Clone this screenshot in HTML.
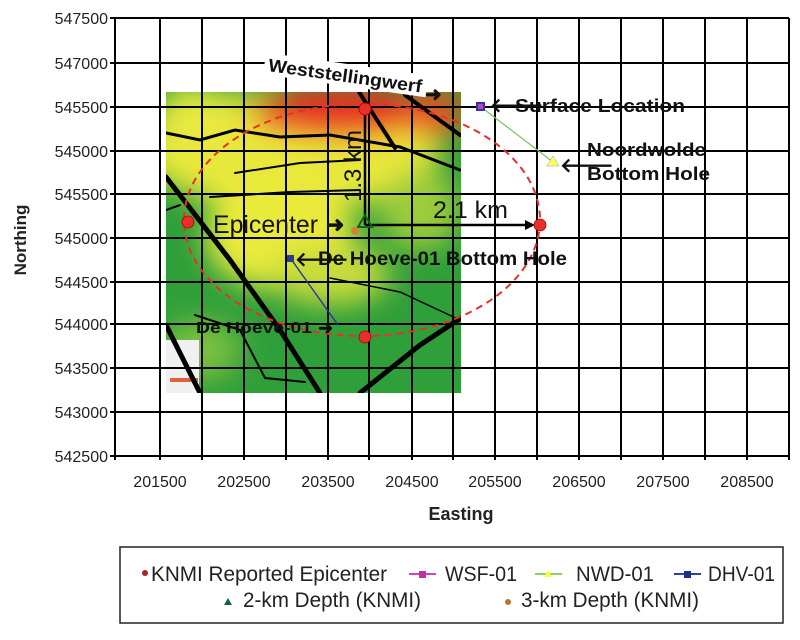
<!DOCTYPE html>
<html><head><meta charset="utf-8"><style>
body{margin:0;background:#fff;}
svg{display:block;font-family:"Liberation Sans",sans-serif;}
</style></head><body>
<svg width="800" height="640" viewBox="0 0 800 640" xmlns="http://www.w3.org/2000/svg">
<defs>
<filter id="b" x="-50%" y="-50%" width="200%" height="200%"><feGaussianBlur stdDeviation="14"/></filter>
<clipPath id="mc"><rect x="166" y="92" width="295" height="301"/></clipPath>
</defs>
<rect width="800" height="640" fill="#fff"/>
<!-- map -->
<g clip-path="url(#mc)">
<rect x="166" y="92" width="295" height="301" fill="#2f9f3a"/>
<g filter="url(#b)">
<ellipse cx="290" cy="150" rx="150" ry="60" fill="#e8e83a"/>
<ellipse cx="280" cy="235" rx="75" ry="55" fill="#eaea3a"/>
<ellipse cx="330" cy="275" rx="60" ry="30" fill="#c8dc3a"/>
<ellipse cx="195" cy="115" rx="40" ry="30" fill="#e8e840"/>
<ellipse cx="420" cy="210" rx="40" ry="40" fill="#9ccc3a"/>
<ellipse cx="340" cy="112" rx="90" ry="26" fill="#e83020"/>
<ellipse cx="435" cy="112" rx="30" ry="25" fill="#e85020"/>
<ellipse cx="200" cy="350" rx="40" ry="30" fill="#7cc040"/>
</g>
<rect x="166" y="340" width="33" height="53" fill="#f0f0f0"/>
<rect x="170" y="378" width="28" height="4" fill="#e06040"/>
<g stroke="#000" fill="none" stroke-linecap="round">
<path d="M166 133 L200 140 L235 130 L280 137 L330 135 L400 147 L460 170" stroke-width="3"/>
<path d="M235 173 L300 163 L360 160" stroke-width="2"/>
<path d="M210 197 L290 192 L360 190" stroke-width="2"/>
<path d="M359 92 L395 148" stroke-width="4"/>
<path d="M405 95 L460 135" stroke-width="4"/>
<path d="M166 177 L230 260 L280 330 L320 393" stroke-width="5"/>
<path d="M166 210 L180 205" stroke-width="2"/>
<path d="M166 325 L200 393" stroke-width="5"/>
<path d="M195 315 L240 330 L265 378 L305 382" stroke-width="2"/>
<path d="M330 278 L400 292 L460 320" stroke-width="1.5"/>
<path d="M360 393 L420 345 L461 318" stroke-width="5"/>
</g>
</g>
<!-- grid -->
<g stroke="#000" stroke-width="2">
<line x1="115" y1="18" x2="115" y2="460"/>
<line x1="160" y1="18" x2="160" y2="460"/>
<line x1="202" y1="18" x2="202" y2="460"/>
<line x1="244" y1="18" x2="244" y2="460"/>
<line x1="286" y1="18" x2="286" y2="460"/>
<line x1="328" y1="18" x2="328" y2="460"/>
<line x1="369" y1="18" x2="369" y2="460"/>
<line x1="412" y1="18" x2="412" y2="460"/>
<line x1="453" y1="18" x2="453" y2="460"/>
<line x1="495" y1="18" x2="495" y2="460"/>
<line x1="537" y1="18" x2="537" y2="460"/>
<line x1="579" y1="18" x2="579" y2="460"/>
<line x1="621" y1="18" x2="621" y2="460"/>
<line x1="663" y1="18" x2="663" y2="460"/>
<line x1="705" y1="18" x2="705" y2="460"/>
<line x1="747" y1="18" x2="747" y2="460"/>
<line x1="789" y1="18" x2="789" y2="460"/>
<line x1="110" y1="18" x2="789" y2="18"/>
<line x1="110" y1="63" x2="789" y2="63"/>
<line x1="110" y1="107" x2="789" y2="107"/>
<line x1="110" y1="151" x2="789" y2="151"/>
<line x1="110" y1="194" x2="789" y2="194"/>
<line x1="110" y1="238" x2="789" y2="238"/>
<line x1="110" y1="282" x2="789" y2="282"/>
<line x1="110" y1="324" x2="789" y2="324"/>
<line x1="110" y1="368" x2="789" y2="368"/>
<line x1="110" y1="412" x2="789" y2="412"/>
<line x1="110" y1="456" x2="789" y2="456"/>
</g>
<!-- y labels -->
<g font-size="16" fill="#222" text-anchor="end">
<text x="108" y="24">547500</text><text x="108" y="69">547000</text><text x="108" y="113">545500</text>
<text x="108" y="157">545000</text><text x="108" y="200">545500</text><text x="108" y="244">545000</text>
<text x="108" y="288">544500</text><text x="108" y="330">544000</text><text x="108" y="374">543500</text>
<text x="108" y="418">543000</text><text x="108" y="462">542500</text>
</g>
<g font-size="16" fill="#222" text-anchor="middle">
<text x="160" y="487">201500</text><text x="244" y="487">202500</text><text x="328" y="487">203500</text>
<text x="412" y="487">204500</text><text x="495" y="487">205500</text><text x="579" y="487">206500</text>
<text x="663" y="487">207500</text><text x="747" y="487">208500</text>
</g>
<text x="461" y="520" font-size="18" font-weight="bold" text-anchor="middle" fill="#222">Easting</text>
<text transform="translate(26,240) rotate(-90)" font-size="17" font-weight="bold" text-anchor="middle" fill="#222">Northing</text>
<!-- ellipse -->
<ellipse cx="362" cy="220" rx="178" ry="116" fill="none" stroke="#e8302a" stroke-width="2" stroke-dasharray="7,5"/>
<!-- wells -->
<line x1="481" y1="107" x2="553" y2="162" stroke="#7cc060" stroke-width="1.2"/>
<line x1="291" y1="259" x2="338" y2="325" stroke="#2a3a9a" stroke-width="1.5"/>
<rect x="476" y="102" width="9" height="9" fill="#2a3a9a"/><rect x="478" y="104" width="5" height="5" fill="#c040c0"/>
<polygon points="553,156 547,166 559,166" fill="#ffff60" stroke="#999" stroke-width="0.5"/>
<rect x="287" y="255" width="7" height="7" fill="#2a3a9a"/>
<!-- measurement arrows -->
<line x1="365" y1="110" x2="365" y2="225" stroke="#000" stroke-width="2.5"/>
<line x1="365" y1="225" x2="532" y2="225" stroke="#000" stroke-width="2.5"/>
<polygon points="535,225 525,220 525,230" fill="#000"/>
<g fill="#e8302a" stroke="#a00" stroke-width="0.8">
<circle cx="365" cy="109" r="6"/><circle cx="540" cy="225" r="6"/>
<circle cx="188" cy="222" r="6"/><circle cx="365" cy="337" r="6"/>
</g>
<polygon points="365,215 358,227 372,227" fill="none" stroke="#116611" stroke-width="2"/>
<circle cx="355" cy="231" r="4" fill="#d08040"/>
<!-- labels -->
<g transform="rotate(8,268,68)"><rect x="264" y="53" width="164" height="22" fill="#fff"/>
<text x="268" y="71" font-size="18" font-weight="bold" fill="#111" textLength="155" lengthAdjust="spacingAndGlyphs">Weststellingwerf</text></g>
<g font-weight="bold" fill="#111">
<text x="425" y="101" font-size="20">➜</text>
<text x="490" y="112" font-size="20">🡐</text>
<text x="515" y="112" font-size="18" textLength="170" lengthAdjust="spacingAndGlyphs">Surface Location</text>
<text x="560" y="172" font-size="20">🡐</text>
<text x="587" y="156" font-size="18" textLength="119" lengthAdjust="spacingAndGlyphs">Noordwolde</text>
<text x="587" y="180" font-size="18" textLength="123" lengthAdjust="spacingAndGlyphs">Bottom Hole</text>
<text x="213" y="233" font-size="25" font-weight="normal" textLength="105" lengthAdjust="spacingAndGlyphs">Epicenter</text>
<text x="326" y="232" font-size="22">➜</text>
<text x="295" y="266" font-size="20">🡐</text>
<text x="318" y="265" font-size="19" textLength="249" lengthAdjust="spacingAndGlyphs">De Hoeve-01 Bottom Hole</text>
<text x="196" y="333" font-size="16" textLength="116" lengthAdjust="spacingAndGlyphs">De Hoeve-01</text>
<text x="318" y="334" font-size="18">➜</text>
<text x="433" y="218" font-size="24" font-weight="normal" textLength="75" lengthAdjust="spacingAndGlyphs">2.1 km</text>
<text transform="translate(361,202) rotate(-90)" font-size="24" font-weight="normal" textLength="72" lengthAdjust="spacingAndGlyphs">1.3 km</text>
</g>
<!-- legend -->
<rect x="120" y="547" width="663" height="76" fill="#fff" stroke="#222" stroke-width="1.5"/>
<g font-size="21" fill="#222" lengthAdjust="spacingAndGlyphs">
<circle cx="145" cy="573" r="3" fill="#b02020"/>
<text x="151" y="581" textLength="236" lengthAdjust="spacingAndGlyphs">KNMI Reported Epicenter</text>
<line x1="409" y1="574" x2="436" y2="574" stroke="#d040c0" stroke-width="2"/><rect x="419" y="571" width="7" height="7" fill="#c030a0"/>
<text x="445" y="581" textLength="72" lengthAdjust="spacingAndGlyphs">WSF-01</text>
<line x1="535" y1="574" x2="562" y2="574" stroke="#90d060" stroke-width="2"/><polygon points="548,570 544,577 552,577" fill="#ffff40"/>
<text x="576" y="581" textLength="78" lengthAdjust="spacingAndGlyphs">NWD-01</text>
<line x1="674" y1="574" x2="701" y2="574" stroke="#3040a0" stroke-width="2"/><rect x="684" y="571" width="7" height="7" fill="#203080"/>
<text x="708" y="581" textLength="67" lengthAdjust="spacingAndGlyphs">DHV-01</text>
<polygon points="228,598 224,605 232,605" fill="#116633"/>
<text x="243" y="607" textLength="178" lengthAdjust="spacingAndGlyphs">2-km Depth (KNMI)</text>
<circle cx="508" cy="602" r="3" fill="#c07030"/>
<text x="521" y="607" textLength="178" lengthAdjust="spacingAndGlyphs">3-km Depth (KNMI)</text>
</g>
</svg>
</body></html>
